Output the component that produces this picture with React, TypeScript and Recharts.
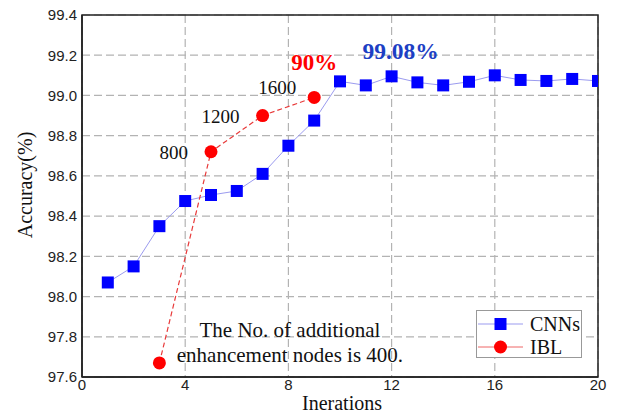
import {
  LineChart,
  Line,
  XAxis,
  YAxis,
  CartesianGrid,
  Legend,
  ReferenceArea,
  ReferenceDot,
  LabelList,
  Label,
} from "recharts";

const iterations = [1, 2, 3, 4, 5, 6, 7, 8, 9, 10, 11, 12, 13, 14, 15, 16, 17, 18, 19, 20];
const cnnAccuracy = [
  98.07, 98.15, 98.35, 98.475, 98.505, 98.525, 98.61, 98.75, 98.875, 99.07,
  99.05, 99.095, 99.065, 99.05, 99.068, 99.1, 99.077, 99.072, 99.082, 99.072,
];
const iblIterations = [3, 5, 7, 9];
const iblAccuracy = [97.67, 98.72, 98.9, 98.99];
const iblNodeLabels = ["", "800", "1200", "1600"];
const xTicks = [0, 4, 8, 12, 16, 20];
const yTicks = [97.6, 97.8, 98.0, 98.2, 98.4, 98.6, 98.8, 99.0, 99.2, 99.4];
const iblPeakLabel = "90%";
const cnnPeakLabel = "99.08%";
const noteLines = ["The No. of additional", "enhancement nodes is 400."];
const notePoint = { it: 8.06, acc: 97.738 };

const cnnData = iterations.map((it, i) => ({ it, acc: cnnAccuracy[i] }));
const iblData = iblIterations.map((it, i) => ({ it, acc: iblAccuracy[i], label: iblNodeLabels[i] }));

const serif = "'Liberation Serif', 'Times New Roman', serif";
const sans = "'Liberation Sans', Arial, sans-serif";

const SquareDot = (props: any) => {
  const { cx, cy } = props;
  if (cx == null || cy == null) return null;
  return <rect x={cx - 6} y={cy - 6} width={12} height={12} fill="#0000ff" />;
};

const CircleDot = (props: any) => {
  const { cx, cy } = props;
  if (cx == null || cy == null) return null;
  return <circle cx={cx} cy={cy} r={6.5} fill="#ff0000" />;
};

const IblLabel = (props: any) => {
  const { x, y, index, value } = props;
  if (index === 0) return null;
  const dx = index === 3 ? -18 : -23;
  const dy = index === 3 ? -3 : 7;
  return (
    <g>
      <text x={x + dx} y={y + dy} textAnchor="end" fontFamily={serif} fontSize={19} fill="#111">
        {value}
      </text>
      {index === 3 && (
        <text x={x} y={y - 27} textAnchor="middle" fontFamily={serif} fontSize={23} fontWeight="bold" fill="#ff0000">
          {iblPeakLabel}
        </text>
      )}
    </g>
  );
};

const CnnLabel = (props: any) => {
  const { x, y, index } = props;
  if (index !== 11) return null;
  return (
    <text x={x + 9} y={y - 17} textAnchor="middle" fontFamily={serif} fontSize={23.5} fontWeight="bold" fill="#1d3fc4">
      {cnnPeakLabel}
    </text>
  );
};

const NoteLabel = (props: any) => {
  const { viewBox } = props;
  const cx = viewBox.x + viewBox.width / 2;
  const cy = viewBox.y + viewBox.height / 2;
  return (
    <text textAnchor="middle" fontFamily={serif} fontSize={21} fill="#111">
      <tspan x={cx} y={cy - 12}>{noteLines[0]}</tspan>
      <tspan x={cx} y={cy + 13}>{noteLines[1]}</tspan>
    </text>
  );
};

const LegendBox = () => {
  const rows = [
    { name: "CNNs", line: "#9b9bef", square: true },
    { name: "IBL", line: "#ee6666", square: false },
  ];
  return (
    <div
      style={{
        border: "1px solid #999",
        background: "#fff",
        width: 104,
        height: 45,
        boxSizing: "content-box",
        paddingTop: 1,
      }}
    >
      {rows.map((r) => (
        <div key={r.name} style={{ display: "flex", alignItems: "center", height: 23 }}>
          <svg width={50} height={20} style={{ marginLeft: 1 }}>
            <line x1={0} y1={10} x2={45} y2={10} stroke={r.line} strokeWidth={1} />
            {r.square ? (
              <rect x={16.5} y={4} width={12} height={12} fill="#0000ff" />
            ) : (
              <circle cx={22.5} cy={10} r={6.5} fill="#ff0000" />
            )}
          </svg>
          <span style={{ fontFamily: serif, fontSize: 20, color: "#111", marginLeft: 2, lineHeight: "20px" }}>
            {r.name}
          </span>
        </div>
      ))}
    </div>
  );
};

export default function App() {
  return (
    <div style={{ position: "relative", width: 618, height: 414, background: "#fff" }}>
      <style>{"body{margin:0}"}</style>
      <LineChart width={618} height={414} margin={{ top: 15, right: 20, left: 0, bottom: 0 }}>
        <CartesianGrid stroke="#b3b3b3" strokeDasharray="8 4" strokeWidth={1.2} />
        <XAxis
          type="number"
          dataKey="it"
          domain={[0, 20]}
          ticks={xTicks}
          height={37}
          tickLine={false}
          tickSize={0}
          tickMargin={2}
          axisLine={{ stroke: "#222", strokeWidth: 1.5 }}
          tick={{ fontSize: 15, fill: "#222", fontFamily: sans }}
          allowDataOverflow
        >
          <Label
            content={(p: any) => {
              const vb = p.viewBox;
              return (
                <text x={vb.x + vb.width / 2 + 2} y={410} textAnchor="middle" fontFamily={serif} fontSize={20} fill="#111">
                  Inerations
                </text>
              );
            }}
          />
        </XAxis>
        <YAxis
          type="number"
          domain={[97.6, 99.4]}
          ticks={yTicks}
          width={82}
          tickLine={false}
          tickSize={0}
          tickMargin={5}
          axisLine={{ stroke: "#222", strokeWidth: 1.5 }}
          tick={{ fontSize: 15, fill: "#222", fontFamily: sans }}
          tickFormatter={(v: number) => v.toFixed(1)}
          allowDataOverflow
        >
          <Label
            content={() => (
              <text
                x={25}
                y={185}
                textAnchor="middle"
                dominantBaseline="central"
                transform="rotate(-90 25 185)"
                fontFamily={serif}
                fontSize={20}
                fill="#111"
              >
                Accuracy(%)
              </text>
            )}
          />
        </YAxis>
        <ReferenceArea x1={0} x2={20} y1={97.6} y2={99.4} fill="none" stroke="#222" strokeWidth={1.5} />
        <Line
          data={cnnData}
          dataKey="acc"
          name="CNNs"
          type="linear"
          stroke="#9b9bef"
          strokeWidth={1}
          dot={<SquareDot />}
          activeDot={false}
          isAnimationActive={false}
        >
          <LabelList dataKey="acc" content={<CnnLabel />} />
        </Line>
        <Line
          data={iblData}
          dataKey="acc"
          name="IBL"
          type="linear"
          stroke="#e83a3a"
          strokeWidth={1.2}
          strokeDasharray="5 3"
          dot={<CircleDot />}
          activeDot={false}
          isAnimationActive={false}
        >
          <LabelList dataKey="label" content={<IblLabel />} />
        </Line>
        <ReferenceDot x={notePoint.it} y={notePoint.acc} r={0} fill="none" stroke="none" label={<NoteLabel />} />
        <Legend
          layout="vertical"
          align="center"
          verticalAlign="middle"
          content={<LegendBox />}
          wrapperStyle={{ left: 476, top: 310, width: 106, height: 47 }}
        />
      </LineChart>
    </div>
  );
}
